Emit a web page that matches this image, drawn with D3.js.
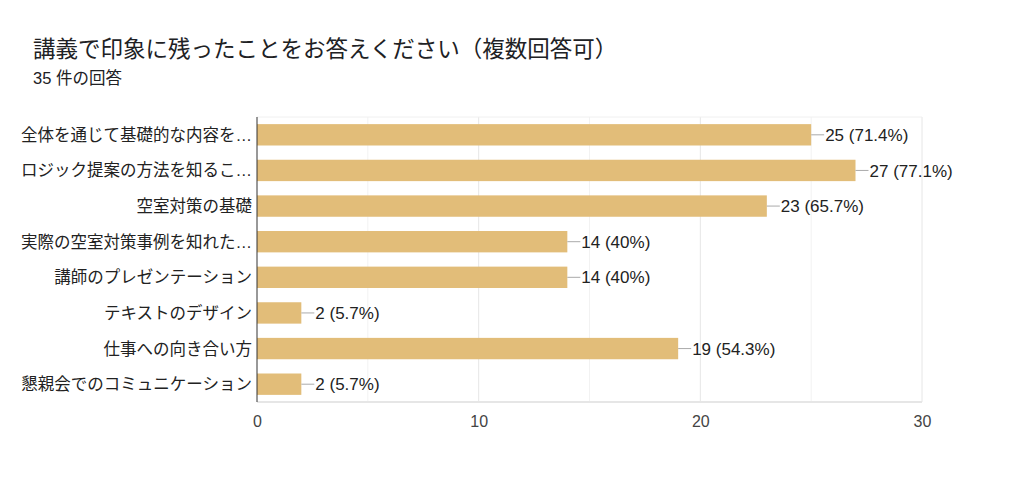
<!DOCTYPE html>
<html>
<head>
<meta charset="utf-8">
<script src="https://cdn.jsdelivr.net/npm/d3@7"></script>
<style>
  body { margin: 0; background: #fff; }
  text { font-family: "Liberation Sans", Arial, "Noto Sans CJK JP", sans-serif; }
</style>
</head>
<body>
<div id="chart"></div>
<script>
const categories = [
  "全体を通じて基礎的な内容を…",
  "ロジック提案の方法を知るこ…",
  "空室対策の基礎",
  "実際の空室対策事例を知れた…",
  "講師のプレゼンテーション",
  "テキストのデザイン",
  "仕事への向き合い方",
  "懇親会でのコミュニケーション"
];
const counts = [25, 27, 23, 14, 14, 2, 19, 2];
const percents = ["71.4%", "77.1%", "65.7%", "40%", "40%", "5.7%", "54.3%", "5.7%"];
const ticks = [0, 10, 20, 30];
const gridTicks = [5, 10, 15, 20, 25, 30];

const width = 1024, height = 487;
const margin = { top: 117, right: 102, bottom: 85, left: 257 };

const svg = d3.select("#chart").append("svg")
  .attr("width", width)
  .attr("height", height);

svg.append("text")
  .attr("x", 33).attr("y", 57)
  .attr("font-size", 22.5).attr("fill", "#202124")
  .text("講義で印象に残ったことをお答えください（複数回答可）");

svg.append("text")
  .attr("x", 33).attr("y", 84)
  .attr("font-size", 16.5).attr("fill", "#202124")
  .text("35 件の回答");

const x = d3.scaleLinear().domain([0, 30]).range([margin.left, width - margin.right]);
const y = d3.scaleBand().domain(categories)
  .range([margin.top, height - margin.bottom])
  .paddingInner(0.4).paddingOuter(0.2);

// grid
svg.append("g").selectAll("line")
  .data(gridTicks)
  .enter().append("line")
  .attr("x1", d => x(d)).attr("x2", d => x(d))
  .attr("y1", margin.top).attr("y2", height - margin.bottom)
  .attr("stroke", d => d % 10 === 0 ? "#e6e6e6" : "#f2f2f2");

svg.append("line")
  .attr("x1", margin.left).attr("x2", x(30))
  .attr("y1", margin.top).attr("y2", margin.top)
  .attr("stroke", "#f0f0f0");
svg.append("line")
  .attr("x1", margin.left).attr("x2", x(30))
  .attr("y1", height - margin.bottom).attr("y2", height - margin.bottom)
  .attr("stroke", "#e6e6e6").attr("stroke-width", 2);

// bars
svg.append("g").selectAll("rect")
  .data(categories)
  .enter().append("rect")
  .attr("x", x(0))
  .attr("y", d => y(d))
  .attr("width", (d, i) => x(counts[i]) - x(0))
  .attr("height", y.bandwidth())
  .attr("fill", "#e2bd79");

// value labels with leader line
const lab = svg.append("g").selectAll("g")
  .data(categories)
  .enter().append("g");
lab.append("line")
  .attr("x1", (d, i) => x(counts[i]))
  .attr("x2", (d, i) => x(counts[i]) + 13)
  .attr("y1", d => y(d) + y.bandwidth() / 2)
  .attr("y2", d => y(d) + y.bandwidth() / 2)
  .attr("stroke", "#aaaaaa");
lab.append("text")
  .attr("x", (d, i) => x(counts[i]) + 14)
  .attr("y", d => y(d) + y.bandwidth() / 2)
  .attr("dy", "0.36em")
  .attr("font-size", 17).attr("fill", "#222")
  .text((d, i) => `${counts[i]} (${percents[i]})`);

// y labels
svg.append("g").selectAll("text")
  .data(categories)
  .enter().append("text")
  .attr("x", margin.left - 5)
  .attr("y", d => y(d) + y.bandwidth() / 2)
  .attr("dy", "0.36em")
  .attr("text-anchor", "end")
  .attr("font-size", 16.5).attr("fill", "#222")
  .text(d => d);

// y axis line
svg.append("line")
  .attr("x1", margin.left).attr("x2", margin.left)
  .attr("y1", margin.top).attr("y2", height - margin.bottom)
  .attr("stroke", "#333");

// x tick labels
const xAxis = svg.append("g")
  .attr("transform", `translate(0,${height - margin.bottom})`)
  .call(d3.axisBottom(x).tickValues(ticks).tickSize(0).tickPadding(14));
xAxis.select(".domain").remove();
xAxis.selectAll("text")
  .attr("font-size", 16).attr("fill", "#444")
  .style("font-family", "'Liberation Sans', Arial, sans-serif");
</script>
</body>
</html>
